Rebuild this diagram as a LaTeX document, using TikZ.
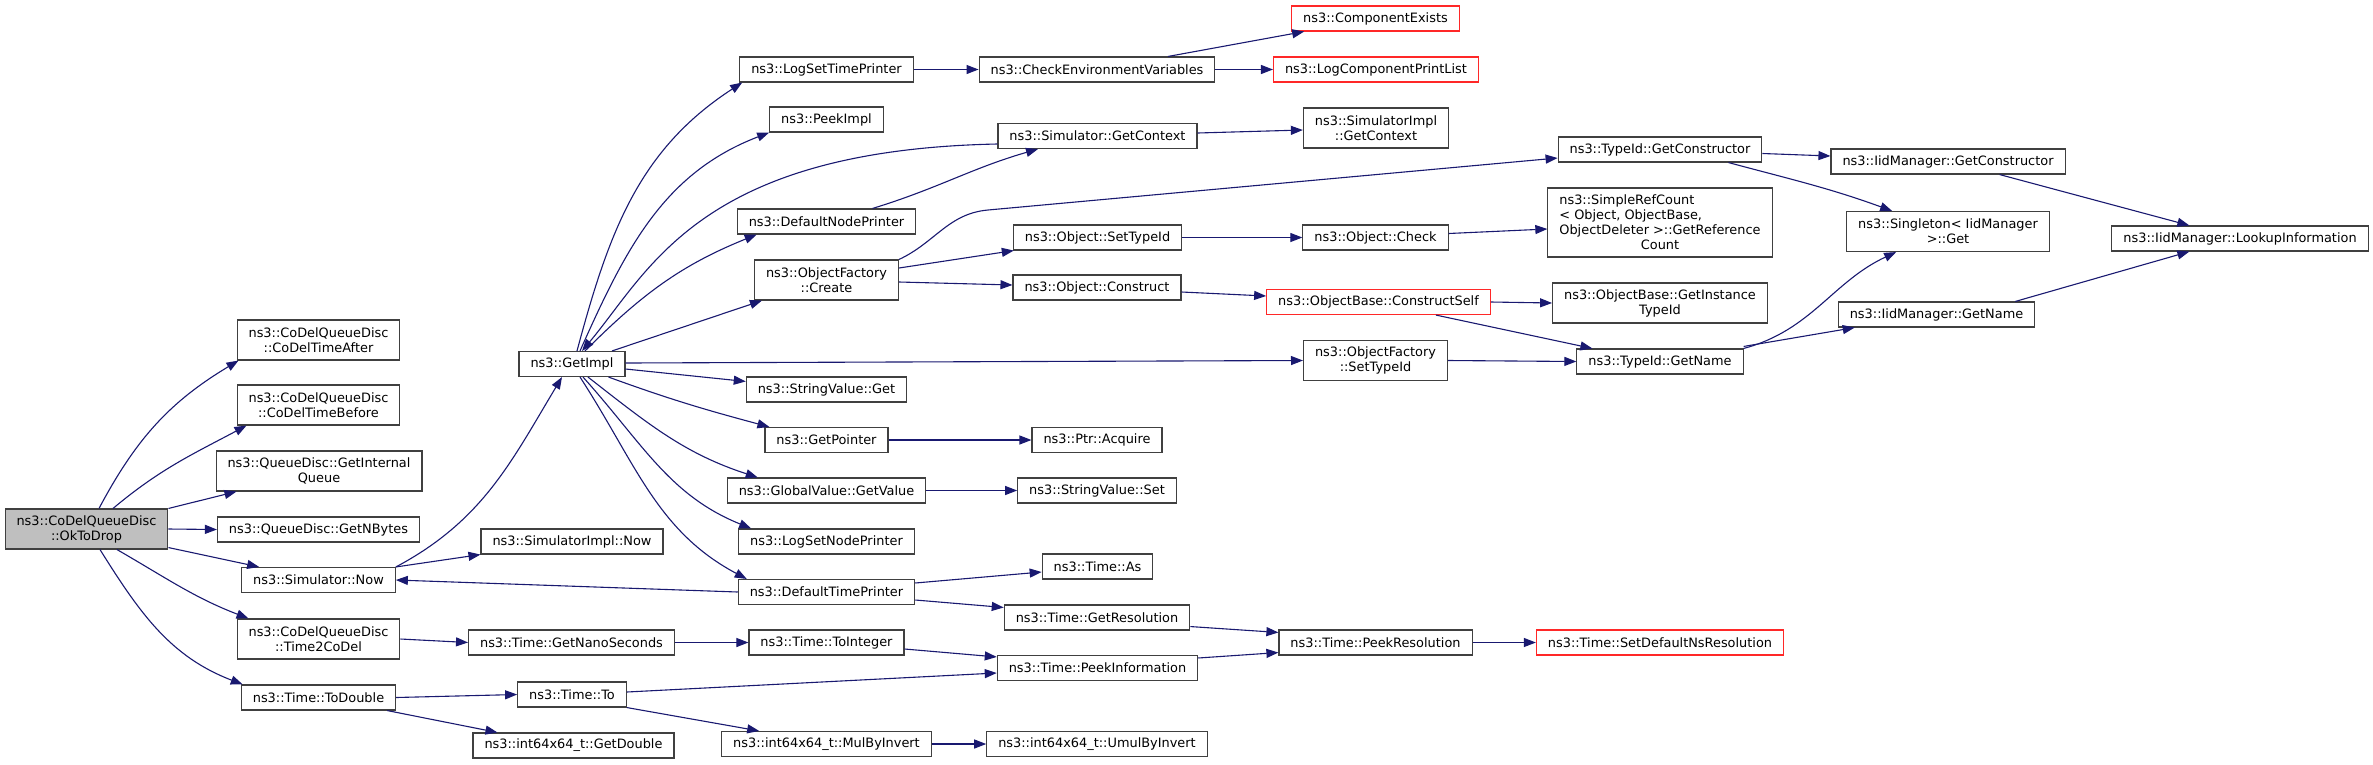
\documentclass[tikz,border=0pt]{standalone}
\usepackage{fontspec}
\setmainfont{DejaVu Sans}
\usetikzlibrary{arrows.meta}
\definecolor{edgeblue}{RGB}{25,25,112}
\definecolor{boxgrey}{RGB}{64,64,64}
\definecolor{truncred}{RGB}{255,40,40}
\definecolor{mainfill}{RGB}{191,191,191}
\newlength\refw

\begin{document}
\begin{tikzpicture}[x=1pt,y=-1pt,
  fnbox/.style={draw=boxgrey,fill=white,line width=1.1pt,font=\fontsize{12.9}{15}\selectfont,
    align=center,inner xsep=11.5pt,inner ysep=6pt,minimum height=25pt},
  twoline/.style={minimum height=40pt},
  fnmain/.style={fnbox,fill=mainfill},
  fnred/.style={fnbox,draw=truncred},
  call/.style={-{Triangle[length=12pt,width=9pt]},draw=edgeblue,line width=1.1pt}
]
  \useasboundingbox (0,0) rectangle (2373,764);

  % caller and first level
  \node[fnmain,twoline] (ok) at (86.5,529) {ns3::CoDelQueueDisc\\::OkToDrop};
  \node[fnbox,twoline] (after) at (318.5,340) {ns3::CoDelQueueDisc\\::CoDelTimeAfter};
  \node[fnbox,twoline] (before) at (318.5,405) {ns3::CoDelQueueDisc\\::CoDelTimeBefore};
  \node[fnbox,twoline] (intq) at (319,471) {ns3::QueueDisc::GetInternal\\Queue};
  \node[fnbox] (nbytes) at (318.5,529.5) {ns3::QueueDisc::GetNBytes};
  \node[fnbox] (now) at (318.5,580) {ns3::Simulator::Now};
  \node[fnbox,twoline] (t2codel) at (318.5,639) {ns3::CoDelQueueDisc\\::Time2CoDel};
  \node[fnbox] (todouble) at (318.5,697.5) {ns3::Time::ToDouble};

  % second column
  \node[fnbox] (getimpl) at (572,364) {ns3::GetImpl};
  \node[fnbox] (simnow) at (572,541.5) {ns3::SimulatorImpl::Now};
  \node[fnbox] (nanosec) at (571.5,642.5) {ns3::Time::GetNanoSeconds};
  \node[fnbox] (timeto) at (572,694.5) {ns3::Time::To};
  \node[fnbox] (getdouble) at (573.5,745.5) {ns3::int64x64\_t::GetDouble};

  % third column
  \node[fnbox] (logtime) at (826.5,69.5) {ns3::LogSetTimePrinter};
  \node[fnbox] (peekimpl) at (826.5,119.5) {ns3::PeekImpl};
  \node[fnbox] (nodeprn) at (826.5,221.5) {ns3::DefaultNodePrinter};
  \node[fnbox,twoline] (create) at (826.5,280) {ns3::ObjectFactory\\::Create};
  \node[fnbox] (svget) at (826.5,389.5) {ns3::StringValue::Get};
  \node[fnbox] (getptr) at (826.5,440) {ns3::GetPointer};
  \node[fnbox] (gvget) at (826.5,490.5) {ns3::GlobalValue::GetValue};
  \node[fnbox] (lognode) at (826.5,541.5) {ns3::LogSetNodePrinter};
  \node[fnbox] (timeprn) at (826.5,592) {ns3::DefaultTimePrinter};
  \node[fnbox] (toint) at (826.5,642.5) {ns3::Time::ToInteger};
  \node[fnbox] (mulinv) at (826.5,744) {ns3::int64x64\_t::MulByInvert};

  % fourth column
  \node[fnbox] (checkenv) at (1097,69.5) {ns3::CheckEnvironmentVariables};
  \node[fnbox] (getctx) at (1097.5,136) {ns3::Simulator::GetContext};
  \node[fnbox] (setid) at (1097.5,237.5) {ns3::Object::SetTypeId};
  \node[fnbox] (construct) at (1097,287.5) {ns3::Object::Construct};
  \node[fnbox] (acquire) at (1097,440) {ns3::Ptr::Acquire};
  \node[fnbox] (svset) at (1097,490.5) {ns3::StringValue::Set};
  \node[fnbox] (timeas) at (1097.5,566.5) {ns3::Time::As};
  \node[fnbox] (getres) at (1097,617.5) {ns3::Time::GetResolution};
  \node[fnbox] (peekinfo) at (1097.5,668) {ns3::Time::PeekInformation};
  \node[fnbox] (umul) at (1097,744) {ns3::int64x64\_t::UmulByInvert};

  % fifth column
  \node[fnred] (compex) at (1375.5,18.5) {ns3::ComponentExists};
  \node[fnred] (printlist) at (1376,69.5) {ns3::LogComponentPrintList};
  \node[fnbox,twoline] (implctx) at (1376,128) {ns3::SimulatorImpl\\::GetContext};
  \node[fnbox] (check) at (1375.5,237.5) {ns3::Object::Check};
  \node[fnred] (cself) at (1378.5,302) {ns3::ObjectBase::ConstructSelf};
  \node[fnbox,twoline] (ofsetid) at (1375.5,360.5) {ns3::ObjectFactory\\::SetTypeId};
  \node[fnbox] (peekres) at (1375.5,642.5) {ns3::Time::PeekResolution};

  % sixth column
  \node[fnbox] (getctor) at (1660,149.5) {ns3::TypeId::GetConstructor};
  \node[fnbox,minimum height=69pt] (refcount) at (1660,222.5)
    {\settowidth{\refw}{ObjectDeleter >::GetReference}\global\refw=\refw
     \makebox[\refw][l]{ns3::SimpleRefCount}\\
     \makebox[\refw][l]{< Object, ObjectBase,}\\ObjectDeleter >::GetReference\\Count};
  \node[fnbox,twoline] (instid) at (1660,303) {ns3::ObjectBase::GetInstance\\TypeId};
  \node[fnbox] (getname) at (1660,361.5) {ns3::TypeId::GetName};
  \node[fnred] (setdef) at (1660,642.5) {ns3::Time::SetDefaultNsResolution};

  % right columns
  \node[fnbox] (iidctor) at (1948,161.5) {ns3::IidManager::GetConstructor};
  \node[fnbox,twoline] (single) at (1948,231.5) {ns3::Singleton< IidManager\\ >::Get};
  \node[fnbox] (iidname) at (1936.5,314.5) {ns3::IidManager::GetName};
  \node[fnbox] (lookup) at (2240,238.5) {ns3::IidManager::LookupInformation};

  % calls of OkToDrop
  \draw[call] ([xshift=12.5pt]ok.north) to[out=62,in=211] ([xshift=2pt]after.south west);
  \draw[call] ([xshift=26.5pt]ok.north) to[out=40,in=208] ([xshift=10pt]before.south west);
  \draw[call] (ok.north east) -- ([xshift=21pt]intq.south west);
  \draw[call] (ok.east) -- (nbytes.west);
  \draw[call] ([yshift=2pt]ok.south east) -- ([xshift=18pt]now.north west);
  \draw[call] ([xshift=30.5pt]ok.south) to[out=-30,in=159] ([xshift=12pt]t2codel.north west);
  \draw[call] ([xshift=13.5pt]ok.south) to[out=-58,in=159] ([xshift=2pt]todouble.north west);

  % lower chains
  \draw[call] (now.north east) to[out=28,in=239] ([xshift=-10pt]getimpl.south);
  \draw[call] (now.north east) -- (simnow.south west);
  \draw[call] (timeprn.west) -- (now.east);
  \draw[call] (t2codel.east) -- (nanosec.west);
  \draw[call] (nanosec.east) -- (toint.west);
  \draw[call] ([yshift=-6.5pt]toint.east) -- ([yshift=-2pt]peekinfo.north west);
  \draw[call] (todouble.east) -- (timeto.west);
  \draw[call] ([xshift=-9pt]todouble.south east) -- ([xshift=25pt]getdouble.north west);
  \draw[call] ([yshift=2.5pt]timeto.east) -- ([yshift=-5pt]peekinfo.west);
  \draw[call] (timeto.south east) -- ([xshift=38pt]mulinv.north west);
  \draw[call] (mulinv.east) -- (umul.west);

  % calls of GetImpl
  \draw[call] ([xshift=5pt]getimpl.north) to[out=75,in=213] ([xshift=3pt]logtime.south west);
  \draw[call] ([xshift=8pt]getimpl.north) to[out=66,in=201] (peekimpl.south west);
  \draw[call] ([xshift=13pt]getimpl.north) to[out=45,in=202] ([xshift=20pt]nodeprn.south west);
  \draw[call] ([xshift=40pt]getimpl.north) -- ([xshift=8pt]create.south west);
  \draw[call] ([yshift=1pt]getimpl.east) -- (ofsetid.west);
  \draw[call] ([yshift=-5pt]getimpl.east) -- ([yshift=-5pt]svget.north west);
  \draw[call] ([xshift=-17pt]getimpl.south east) to[out=-20,in=165] ([xshift=5pt]getptr.north west);
  \draw[call] ([xshift=16pt]getimpl.south) to[out=-38,in=162] ([xshift=31pt]gvget.north west);
  \draw[call] ([xshift=11pt]getimpl.south) to[out=-48,in=158] ([xshift=13pt]lognode.north west);
  \draw[call] ([xshift=8pt]getimpl.south) to[out=-57,in=152] ([xshift=9pt]timeprn.north west);
  \draw[call] ([yshift=-8pt]getctx.west) .. controls +(-298,6) and +(68,-81) .. ([xshift=10pt]getimpl.north);
  \draw[call] ([xshift=46pt]nodeprn.north) to[out=17,in=196] ([xshift=-59.5pt]getctx.south);

  % upper right part
  \draw[call] (logtime.east) -- (checkenv.west);
  \draw[call] ([xshift=71pt]checkenv.north) -- ([xshift=13pt]compex.south west);
  \draw[call] (checkenv.east) -- (printlist.west);
  \draw[call] ([yshift=3pt]getctx.east) -- ([yshift=-2pt]implctx.west);
  \draw[call] (create.north east) to[out=25,in=185] (988,210) -- ([yshift=-8.5pt]getctor.west);
  \draw[call] ([yshift=12pt]create.east) -- ([xshift=1pt]setid.south west);
  \draw[call] ([yshift=-2pt]create.east) -- ([yshift=2.5pt]construct.west);
  \draw[call] (setid.east) -- (check.west);
  \draw[call] ([yshift=4pt]check.east) -- ([yshift=-6.5pt]refcount.west);
  \draw[call] ([yshift=-4.5pt]construct.east) -- ([yshift=6pt]cself.west);
  \draw[call] (cself.east) -- (instid.west);
  \draw[call] ([xshift=-55pt]cself.south east) -- ([xshift=16pt]getname.north west);
  \draw[call] (ofsetid.east) -- (getname.west);
  \draw[call] ([yshift=-4pt]getctor.east) -- ([yshift=5.5pt]iidctor.west);
  \draw[call] ([xshift=-34pt]getctor.south east) to[out=-15,in=160] ([xshift=46pt]single.north west);
  \draw[call] (getname.north east) to[out=15,in=205] ([xshift=50pt]single.south west);
  \draw[call] ([yshift=2pt]getname.north east) -- ([xshift=17pt]iidname.south west);
  \draw[call] ([xshift=-66pt]iidctor.south east) -- ([xshift=78pt]lookup.north west);
  \draw[call] ([xshift=-20pt]iidname.north east) -- ([xshift=78pt]lookup.south west);

  % lower right part
  \draw[call] (getptr.east) -- (acquire.west);
  \draw[call] (gvget.east) -- (svset.west);
  \draw[call] ([yshift=9pt]timeprn.east) -- ([yshift=-5.5pt]timeas.west);
  \draw[call] ([yshift=-8pt]timeprn.east) -- ([yshift=-3pt]getres.north west);
  \draw[call] ([yshift=4pt]getres.south east) -- ([yshift=-3pt]peekres.north west);
  \draw[call] ([yshift=10pt]peekinfo.east) -- ([yshift=3pt]peekres.south west);
  \draw[call] (peekres.east) -- (setdef.west);
\end{tikzpicture}
\end{document}
